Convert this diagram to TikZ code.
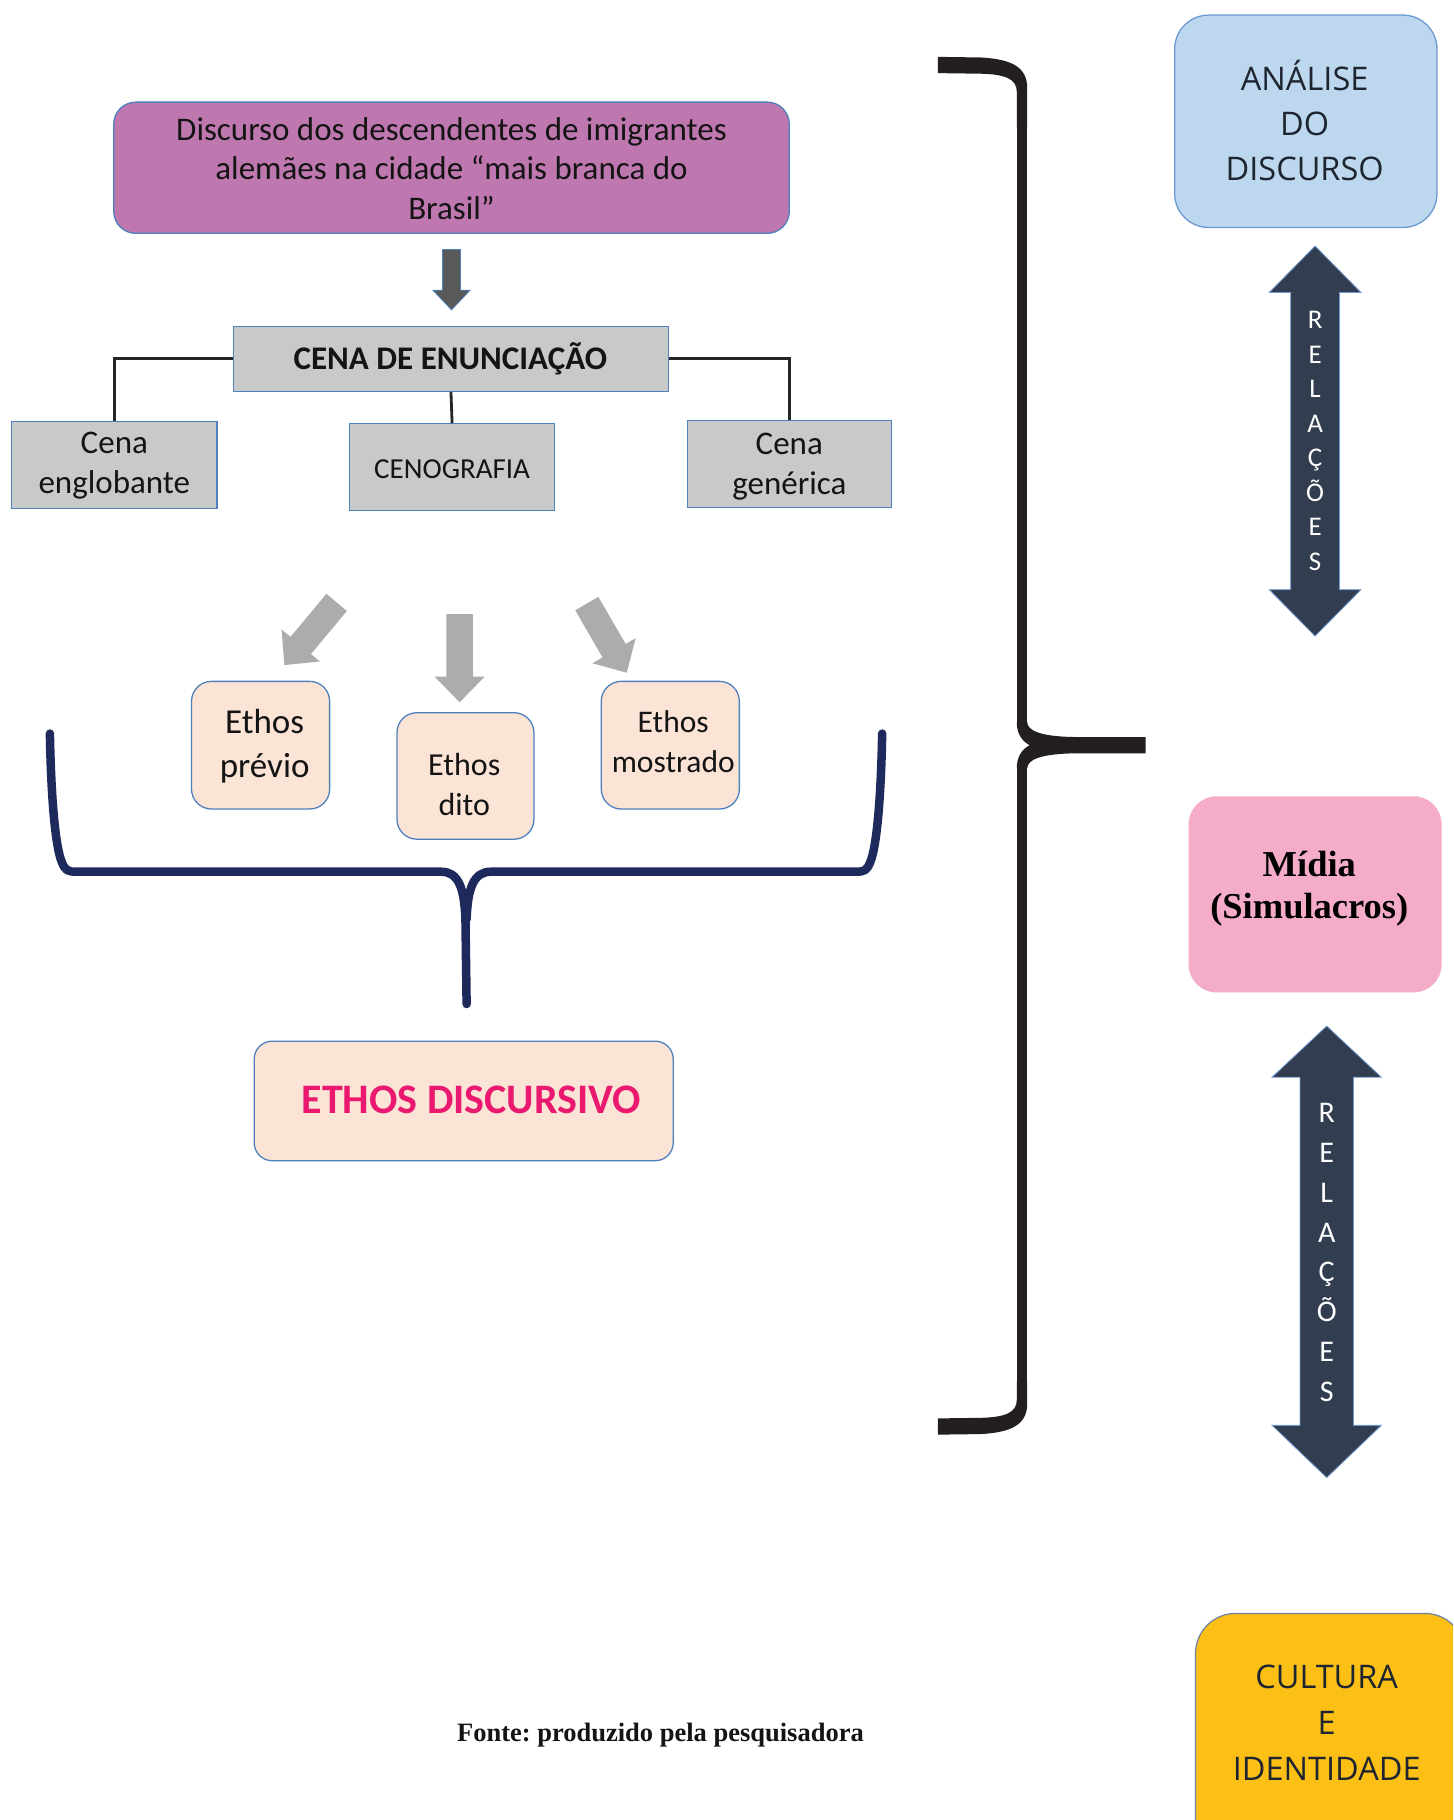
\documentclass[tikz,border=0pt]{standalone}
\usepackage{fontspec}
\setmainfont{Carlito}
\newfontfamily\osans{Open Sans}
\newfontfamily\tnr{Liberation Serif}
\usetikzlibrary{fit,calc}
\frenchspacing
\definecolor{purp}{RGB}{191,119,176}
\definecolor{bblue}{RGB}{79,129,189}
\definecolor{gbox}{RGB}{201,201,201}
\definecolor{peach}{RGB}{251,227,214}
\definecolor{magen}{RGB}{234,24,111}
\definecolor{lblue}{RGB}{189,215,238}
\definecolor{lbord}{RGB}{108,154,208}
\definecolor{pinkb}{RGB}{244,172,200}
\definecolor{amber}{RGB}{251,191,21}
\definecolor{abord}{RGB}{110,130,160}
\definecolor{slate}{RGB}{50,62,79}
\definecolor{lgray}{RGB}{174,171,171}
\definecolor{dgray}{RGB}{89,89,89}
\definecolor{navy}{RGB}{31,42,92}
\definecolor{blk}{RGB}{35,31,32}
\definecolor{ink}{RGB}{20,20,20}
\definecolor{darkink}{RGB}{30,37,48}
\begin{document}
\begin{tikzpicture}[x=1.1605pt,y=-1.1605pt,
  box/.style={draw=bblue, line width=1.3pt, inner sep=0pt},
  gbx/.style={box, fill=gbox},
  ebx/.style={box, fill=peach, rounded corners=20pt},
  txt/.style={align=center, inner sep=0pt, text=ink},
  link/.style={draw=black!85, line width=2.8pt},
  vlet/.style={align=center, inner sep=0pt, text=white},
]
\useasboundingbox (0,0) rectangle (1252,1568);
\clip (0,0) rectangle (1252,1568);
\fill[white] (0,0) rectangle (1252,1568);

% ---------- top box
\node[box, fill=purp, rounded corners=22pt, fit={(98,88) (680,201)}] (top) {};
\node[txt, font=\fontsize{33}{39.5}\selectfont] (topt) at (389,145)
  {Discurso dos descendentes de imigrantes\\alemães na cidade “mais branca do\\Brasil”};

% dark arrow top -> cena
\fill[dgray, draw=bblue, line width=0.8pt] (381.25,215) -- (396.75,215) -- (396.75,250) -- (405,250)
  -- (389,267) -- (373,250) -- (381.25,250) -- cycle;

% ---------- cena de enunciacao
\node[gbx, fit={(201,281) (576,337)}] (cena) {};
\node[txt, font=\bfseries\fontsize{33}{40}\selectfont] (cenat) at (388,309) {CENA DE ENUNCIAÇÃO};

\node[gbx, fit={(10,363) (187,438)}] (eng) {};
\node[txt, font=\fontsize{33}{39.5}\selectfont] (engt) at (98.5,401) {Cena\\englobante};
\node[gbx, fit={(301,365) (478,440)}] (ceno) {};
\node[txt, font=\fontsize{29}{35}\selectfont] (cenot) at (389.5,404) {CENOGRAFIA};
\node[gbx, fit={(592,362) (768,437)}] (gen) {};
\node[txt, font=\fontsize{33}{39.5}\selectfont] (gent) at (680,402) {Cena\\genérica};

\draw[link] (cena.west) -| (eng.north);
\draw[link] (cena.east) -| (gen.north);
\draw[link] (cena.south) -- (ceno.north);

% ---------- light gray arrows
\fill[lgray] (281.2,511.6) -- (250.3,548.7) -- (242.6,542.3) -- (245,573) -- (275.6,569.9)
  -- (267.9,563.5) -- (298.8,526.4) -- cycle;
\fill[lgray] (384.5,529) -- (384.5,583) -- (374.5,583) -- (396,605) -- (417.5,583)
  -- (407.5,583) -- (407.5,529) -- cycle;
\fill[lgray] (495.6,525.8) -- (519.1,566.4) -- (510.4,571.4) -- (540,579.6) -- (547.6,549.8)
  -- (539,554.8) -- (515.5,514.2) -- cycle;

% ---------- ethos boxes
\node[ebx, fit={(165,587) (284,697)}] (pv) {};
\node[txt, font=\fontsize{35}{44}\selectfont] (pvt) at (228,643) {Ethos\\prévio};
\node[ebx, fit={(342,614) (460,723)}] (dt) {};
\node[txt, font=\fontsize{32}{39.5}\selectfont] (dtt) at (400,676) {Ethos\\dito};
\node[ebx, fit={(518,587) (637,697)}] (ms) {};
\node[txt, font=\fontsize{31.5}{39.5}\selectfont] (mst) at (580,639) {Ethos\\mostrado};

% ---------- navy brace
\draw[navy, line width=8.5pt, line cap=round, line join=round]
  (43,632) .. controls (44,690) and (48,730) .. (53,742) .. controls (56,750) and (58,751) .. (66,751)
  -- (380,751) .. controls (395,751) and (400,765) .. (401,792) -- (402,865);
\draw[navy, line width=8.5pt, line cap=round, line join=round]
  (760,632) .. controls (759,690) and (755,730) .. (750,742) .. controls (747,750) and (745,751) .. (737,751)
  -- (423,751) .. controls (408,751) and (403,765) .. (402,792);

% ---------- ethos discursivo
\node[ebx, rounded corners=18pt, fit={(219,897) (580,1000)}] (ed) {};
\node[txt, text=magen, font=\bfseries\fontsize{42}{48}\selectfont] (edt) at (406,948) {ETHOS DISCURSIVO};

% ---------- big black brace
\fill[blk] (808,49) -- (845,49.5) .. controls (872,51) and (885,58) .. (885,76) -- (885,110)
  -- (876,110) -- (876,79) .. controls (876,68) and (866,64) .. (845,63.5) -- (808,63) -- cycle;
\fill[blk] (876,105) rectangle (885,627);
\fill[blk] (876,622) .. controls (876,632) and (880,638) .. (887,642) .. controls (880,646) and (876,652) .. (876,662)
  -- (885,662) .. controls (885,655) and (895,649) .. (930,649) -- (987,649) -- (987,635) -- (930,635)
  .. controls (895,635) and (885,629) .. (885,622) -- cycle;
\fill[blk] (876,657) rectangle (885,1195);
\fill[blk] (808,1236) -- (845,1235.5) .. controls (872,1234) and (885,1227) .. (885,1209) -- (885,1190)
  -- (876,1190) -- (876,1206) .. controls (876,1217) and (866,1221) .. (845,1221.5) -- (808,1222) -- cycle;

% ---------- right column
\node[draw=lbord, line width=1.3pt, fill=lblue, rounded corners=34pt, inner sep=0pt, fit={(1012,13) (1238,196)}] (ad) {};
\node[txt, text=darkink, font=\osans\fontsize{32.5}{45}\selectfont] (adt) at (1124,104) {ANÁLISE\\DO\\DISCURSO};

\fill[slate, draw=lbord, line width=0.8pt] (1133,212) -- (1172.5,252) -- (1154,252) -- (1154,508) -- (1172.5,508) -- (1133,548)
  -- (1093.5,508) -- (1112,508) -- (1112,252) -- (1093.5,252) -- cycle;
\node[vlet, font=\fontsize{27}{34.5}\selectfont] (rel1) at (1133,380) {R\\E\\L\\A\\Ç\\Õ\\E\\S};

\node[fill=pinkb, rounded corners=28pt, inner sep=0pt, fit={(1024,686) (1242,855)}] (md) {};
\node[txt, text=black, font=\tnr\bfseries\fontsize{36.5}{42}\selectfont] (mdt) at (1128,766) {Mídia\\(Simulacros)};

\fill[slate, draw=lbord, line width=0.8pt] (1143,884) -- (1190,928) -- (1166,928) -- (1166,1228) -- (1190,1228) -- (1143,1273)
  -- (1096,1228) -- (1120,1228) -- (1120,928) -- (1096,928) -- cycle;
\node[vlet, font=\fontsize{30}{39.8}\selectfont] (rel2) at (1143,1079) {R\\E\\L\\A\\Ç\\Õ\\E\\S};

\node[draw=abord, line width=1.2pt, fill=amber, rounded corners=40pt, inner sep=0pt, fit={(1030,1390) (1262,1620)}] (cu) {};
\node[txt, text=darkink, font=\osans\fontsize{32.5}{46}\selectfont] (cut) at (1143,1484) {CULTURA\\E\\IDENTIDADE};

% ---------- source
\node[txt, font=\tnr\bfseries\fontsize{26.5}{30}\selectfont] (fonte) at (569,1495) {Fonte: produzido pela pesquisadora};
\end{tikzpicture}
\end{document}
